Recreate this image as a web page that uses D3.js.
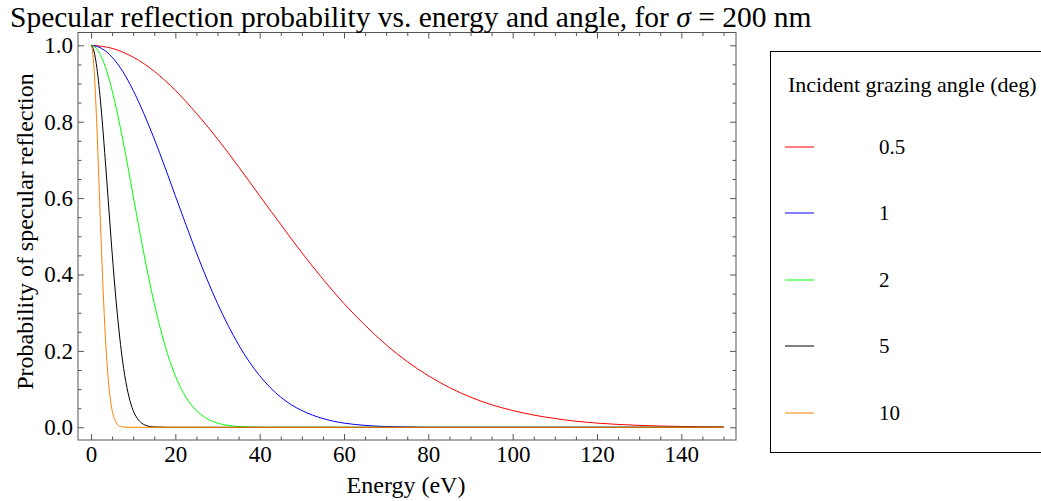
<!DOCTYPE html>
<html>
<head>
<meta charset="utf-8">
<script src="https://cdn.jsdelivr.net/npm/d3@7"></script>
<style>
  html, body { margin: 0; padding: 0; background: #fff; }
  svg { display: block; font-family: "Liberation Serif", "Times New Roman", serif; }
</style>
</head>
<body>
<svg id="chart" width="1041" height="501"></svg>
<script>
// Specular reflection probability vs. photon energy, one curve per grazing angle.
const angleLabels = ["0.5", "1", "2", "5", "10"];

const energy05 = [0,5,10,15,20,25,30,35,40,45,50,55,60,65,70,75,80,85,90,95,100,105,110,115,120,125,130,135,140,145,150];
const prob05   = [1,0.992,0.969,0.932,0.882,0.822,0.755,0.682,0.606,0.531,0.457,0.388,0.324,0.267,0.216,0.172,0.135,0.104,0.079,0.059,0.044,0.032,0.023,0.016,0.011,0.0075,0.005,0.0033,0.0022,0.0014,0.0009];

const energy1 = [0,2.5,5,7.5,10,12.5,15,17.5,20,22.5,25,27.5,30,32.5,35,37.5,40,42.5,45,47.5,50,52.5,55,57.5,60,65,70,75,80,150];
const prob1   = [1,0.992,0.969,0.932,0.882,0.822,0.755,0.682,0.606,0.531,0.457,0.388,0.324,0.267,0.216,0.172,0.135,0.104,0.079,0.059,0.044,0.032,0.023,0.016,0.011,0.005,0.002,0.001,0,0];

const energy2 = [0,1.25,2.5,3.75,5,6.25,7.5,8.75,10,11.25,12.5,13.75,15,16.25,17.5,18.75,20,21.25,22.5,23.75,25,27.5,30,32.5,35,37.5,40,150];
const prob2   = [1,0.992,0.969,0.932,0.882,0.822,0.755,0.682,0.606,0.531,0.457,0.388,0.324,0.267,0.216,0.172,0.135,0.104,0.079,0.059,0.044,0.023,0.011,0.005,0.002,0.001,0,0];

const energy5 = [0,0.5,1,1.5,2,2.5,3,3.5,4,4.5,5,5.5,6,6.5,7,7.5,8,9,10,11,12,13,14,15,20,150];
const prob5   = [1,0.992,0.969,0.932,0.882,0.823,0.755,0.682,0.607,0.532,0.458,0.389,0.325,0.268,0.217,0.173,0.136,0.080,0.044,0.023,0.011,0.005,0.002,0.001,0,0];

const energy10 = [0,0.25,0.5,0.75,1,1.25,1.5,1.75,2,2.25,2.5,2.75,3,3.25,3.5,3.75,4,4.5,5,5.5,6,6.5,7,8,10,150];
const prob10   = [1,0.992,0.969,0.933,0.883,0.824,0.757,0.684,0.609,0.534,0.461,0.392,0.328,0.270,0.219,0.175,0.138,0.081,0.045,0.024,0.012,0.005,0.002,0.0004,0,0];

const xMajorTicks = [0,20,40,60,80,100,120,140];
const yMajorTicks = [0,0.2,0.4,0.6,0.8,1.0];

const curveColors = ["#ff0000", "#0000ff", "#00ff00", "#000000", "#ff8000"];

const seriesList = [
  { label: angleLabels[0], e: energy05, p: prob05 },
  { label: angleLabels[1], e: energy1,  p: prob1 },
  { label: angleLabels[2], e: energy2,  p: prob2 },
  { label: angleLabels[3], e: energy5,  p: prob5 },
  { label: angleLabels[4], e: energy10, p: prob10 }
];

const svg = d3.select("#chart");

// Frame edges and data-to-pixel mapping
const frame = { left: 78, right: 736, top: 32.5, bottom: 440 };
const x = d3.scaleLinear().domain([0, 150]).range([91, 723.5]);
const y = d3.scaleLinear().domain([0, 1]).range([427.3, 45.3]);

const frameColor = "#555";
const tickFont = 23;

// minor tick positions (every 5 eV / every 0.05 that is not a major tick)
const xMinor = d3.range(0, 151, 5).filter(v => v % 20 !== 0);
const yMinor = d3.range(0, 21).map(i => i * 0.05).filter(v => Math.abs(v * 5 - Math.round(v * 5)) > 1e-6);

function styleAxis(g) {
  g.select(".domain").remove();
  g.selectAll("line").attr("stroke", frameColor).attr("stroke-width", 1);
  g.selectAll("text").attr("fill", "#000").attr("font-size", tickFont)
    .attr("font-family", "'Liberation Serif','Times New Roman',serif");
}

// bottom axis with labels
svg.append("g").attr("transform", `translate(0,${frame.bottom})`)
  .call(d3.axisBottom(x).tickValues(xMajorTicks).tickSize(-6).tickPadding(6).tickFormat(d3.format("d")))
  .call(styleAxis);
svg.append("g").attr("transform", `translate(0,${frame.bottom})`)
  .call(d3.axisBottom(x).tickValues(xMinor).tickSize(-3.5).tickFormat(""))
  .call(styleAxis);
// top axis (ticks only)
svg.append("g").attr("transform", `translate(0,${frame.top})`)
  .call(d3.axisTop(x).tickValues(xMajorTicks).tickSize(-6).tickFormat(""))
  .call(styleAxis);
svg.append("g").attr("transform", `translate(0,${frame.top})`)
  .call(d3.axisTop(x).tickValues(xMinor).tickSize(-3.5).tickFormat(""))
  .call(styleAxis);
// left axis with labels
svg.append("g").attr("transform", `translate(${frame.left},0)`)
  .call(d3.axisLeft(y).tickValues(yMajorTicks).tickSize(-6).tickPadding(5).tickFormat(d3.format(".1f")))
  .call(styleAxis);
svg.append("g").attr("transform", `translate(${frame.left},0)`)
  .call(d3.axisLeft(y).tickValues(yMinor).tickSize(-3.5).tickFormat(""))
  .call(styleAxis);
// right axis (ticks only)
svg.append("g").attr("transform", `translate(${frame.right},0)`)
  .call(d3.axisRight(y).tickValues(yMajorTicks).tickSize(-6).tickFormat(""))
  .call(styleAxis);
svg.append("g").attr("transform", `translate(${frame.right},0)`)
  .call(d3.axisRight(y).tickValues(yMinor).tickSize(-3.5).tickFormat(""))
  .call(styleAxis);

// frame
svg.append("rect")
  .attr("x", frame.left).attr("y", frame.top)
  .attr("width", frame.right - frame.left).attr("height", frame.bottom - frame.top)
  .attr("fill", "none").attr("stroke", frameColor).attr("stroke-width", 1);

// curves
const line = d3.line().x(d => x(d[0])).y(d => y(d[1])).curve(d3.curveMonotoneX);
seriesList.forEach((s, i) => {
  svg.append("path")
    .datum(s.e.map((e, j) => [e, s.p[j]]))
    .attr("fill", "none")
    .attr("stroke", curveColors[i])
    .attr("stroke-width", 1)
    .attr("d", line);
});

// title
const title = svg.append("text").attr("x", 10).attr("y", 27).attr("font-size", 29.5).attr("fill", "#000");
title.append("tspan").text("Specular reflection probability vs. energy and angle, for ");
title.append("tspan").attr("font-style", "italic").text("σ");
title.append("tspan").text(" = 200 nm");

// axis titles
svg.append("text").attr("x", 406).attr("y", 493).attr("text-anchor", "middle")
  .attr("font-size", 24).text("Energy (eV)");
svg.append("text").attr("transform", "translate(33,231.5) rotate(-90)").attr("text-anchor", "middle")
  .attr("font-size", 24).text("Probability of specular reflection");

// legend
const legend = svg.append("g");
legend.append("rect").attr("x", 770.5).attr("y", 51.5).attr("width", 300).attr("height", 401)
  .attr("fill", "#fff").attr("stroke", "#000").attr("stroke-width", 1);
legend.append("text").attr("x", 788).attr("y", 92).attr("font-size", 22).text("Incident grazing angle (deg)");
const rowY = d3.scaleLinear().domain([0, 4]).range([147, 412.5]);
seriesList.forEach((s, i) => {
  const yy = Math.round(rowY(i));
  legend.append("line").attr("x1", 785).attr("x2", 814).attr("y1", yy).attr("y2", yy)
    .attr("stroke", curveColors[i]).attr("stroke-width", 1);
  legend.append("text").attr("x", 879).attr("y", yy + 7).attr("font-size", 21).text(s.label);
});
</script>
</body>
</html>
